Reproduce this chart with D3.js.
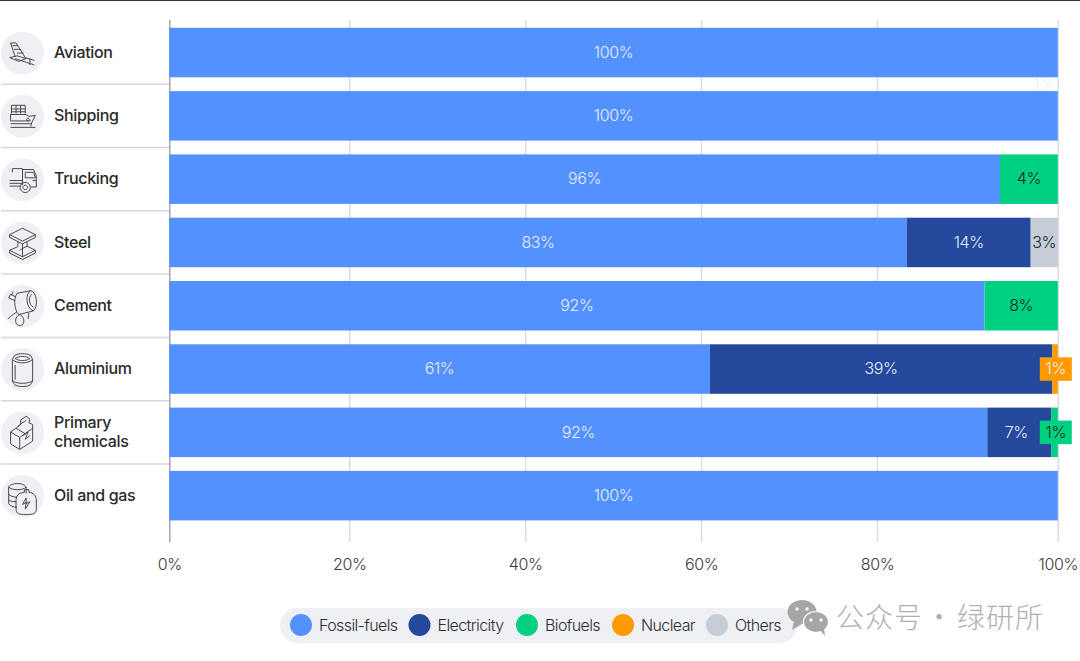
<!DOCTYPE html>
<html><head><meta charset="utf-8">
<script src="https://cdn.jsdelivr.net/npm/d3@7/dist/d3.min.js"></script>
<style>
html,body{margin:0;padding:0;background:#fff;overflow:hidden}
text{font-family:Inter,"Liberation Sans",sans-serif}
</style></head><body>
<svg id="chart" width="1080" height="661"></svg>
<script>
const categories = ["Aviation","Shipping","Trucking","Steel","Cement","Aluminium","Primary chemicals","Oil and gas"];
const seriesNames = ["Fossil-fuels","Electricity","Biofuels","Nuclear","Others"];
const seriesColors = ["#5391ff","#24489b","#00d180","#ff9a00","#c5cdd6"];
const fossil      = [100,100,93.6,83.3,91.9,61,92.2,100];
const electricity = [0,0,0,13.7,0,38.4,7.1,0];
const biofuels    = [0,0,6.4,0,8.1,0,0.7,0];
const nuclear     = [0,0,0,0,0,0.6,0,0];
const others      = [0,0,0,3,0,0,0,0];
const fossilLabels      = ["100%","100%","96%","83%","92%","61%","92%","100%"];
const electricityLabels = ["","","","14%","","39%","7%",""];
const biofuelsLabels    = ["","","4%","","8%","","1%",""];
const nuclearLabels     = ["","","","","","1%","",""];
const othersLabels      = ["","","","3%","","","",""];
const tickValues = [0,20,40,60,80,100];
const watermarkLeft = "公众号";
const watermarkDot = "·";
const watermarkRight = "绿研所";

const values = [fossil,electricity,biofuels,nuclear,others];
const labels = [fossilLabels,electricityLabels,biofuelsLabels,nuclearLabels,othersLabels];
const rows = categories.map((c,i)=>{const r={category:c};seriesNames.forEach((s,j)=>r[s]=values[j][i]);return r;});

const svg = d3.select("#chart");
const x = d3.scaleLinear().domain([0,20,80,100]).range([169.3,349.3,877,1057.8]);
const y = d3.scaleBand().domain(categories).range([20.9,527.3]).paddingInner(0.218).paddingOuter(0.109);
const color = d3.scaleOrdinal().domain(seriesNames).range(seriesColors);
const stacked = d3.stack().keys(seriesNames)(rows);

svg.append("rect").attr("x",0).attr("y",0).attr("width",1080).attr("height",1).attr("fill","#333");

// grid + axis
const axis = d3.axisBottom(x).tickValues(tickValues).tickFormat(d=>d+"%").tickSize(522).tickPadding(17);
const gx = svg.append("g").attr("transform","translate(0,20)").call(axis);
gx.select(".domain").remove();
gx.selectAll(".tick line").attr("stroke",d=>d===0?"#a4a6ab":"#d9dce4").attr("stroke-width",1.5);
gx.selectAll(".tick text").attr("font-size",16).attr("fill","#3a3a3a").attr("font-weight",300).attr("letter-spacing",-0.4);

// row separators
svg.append("g").selectAll("line").data(categories.slice(1)).join("line")
  .attr("x1",1).attr("x2",169)
  .attr("y1",d=>y(d)-y.step()*0.109).attr("y2",d=>y(d)-y.step()*0.109)
  .attr("stroke","#d5d8e2").attr("stroke-width",1.5);

// bars
svg.append("g").selectAll("g").data(stacked).join("g").attr("fill",d=>color(d.key))
  .selectAll("rect").data(d=>d.filter(p=>p[1]>p[0])).join("rect")
  .attr("x",d=>x(d[0])).attr("width",d=>x(d[1])-x(d[0]))
  .attr("y",d=>y(d.data.category)).attr("height",y.bandwidth());

// bar labels
const tagW = 32, tagH = 23.5;
stacked.forEach((s,j)=>{
  s.forEach((p,i)=>{
    const t = labels[j][i]; if(!t) return;
    const cy = y(categories[i])+y.bandwidth()/2;
    let cx = (x(p[0])+x(p[1]))/2;
    const w = x(p[1])-x(p[0]);
    const narrow = w < 20 && s.key!=="Others";
    if(narrow){
      cx = x(p[1])-2;
      svg.append("rect").attr("x",cx-tagW/2).attr("y",cy-tagH/2).attr("width",tagW).attr("height",tagH).attr("fill",color(s.key));
    } else if (w < 70 && s.key==="Electricity") cx -= 3;
    const dark = s.key==="Biofuels"||s.key==="Others";
    svg.append("text").attr("x",cx).attr("y",cy-0.5).attr("dy","0.36em").attr("text-anchor","middle")
      .attr("font-size",16).attr("font-weight",300).attr("letter-spacing",-0.4)
      .attr("fill",dark?"#122a22":"#e6edfb").text(t);
  });
});
// faint stray label in the gap under Aviation
svg.append("text").attr("x",1044).attr("y",84).attr("dy","0.36em").attr("text-anchor","middle")
  .attr("font-size",16).attr("font-weight",300).attr("fill","#eff0f3").text("1%");

// category labels
const lab = svg.append("g");
categories.forEach(c=>{
  const cy = y(c)+y.bandwidth()/2;
  const words = c==="Primary chemicals"?["Primary","chemicals"]:[c];
  words.forEach((w,k)=>{
    lab.append("text").attr("x",54).attr("y",cy-0.5+(k-(words.length-1)/2)*19).attr("dy","0.36em")
      .attr("font-size",16).attr("font-weight",500).attr("letter-spacing",-0.35).attr("fill","#2a2a2a").text(w);
  });
});

// icons (decorative line drawings)
const iconPaths = {
 "Aviation":"M-13,-11 L-7,-11 L3,5 L13,8 M-13,-11 L-8,4 M-11,-8 L-5,-8 M-9,-4 L-2,-4 M-6,0 L1,0 M-14,5 L-6,3 L4,6 L-4,9 L-14,5 M-8,6 L13,13 M8,6 V13",
 "Shipping":"M-12,-12 H3 M-12,-12 V-3 M-7,-12 V-3 M-2,-12 V-3 M3,-12 V-3 M-12,-8 H3 M-12,-5 H3 M-13,-2 H4 L7,0 L14,-1 L10,7 L9,11 M-13,-2 V5 H9 M6,2 a1.5,1.5 0 1 0 0.01,0 M-13,8 H10 M-13,12 H14",
 "Trucking":"M-11,-12 H0 M-11,-12 V-8 M0,-12 V6 M0,-11 H12 L15,-4 V8 H9 M3,-8 H12 L14,-2 H3 Z M-14,1 H0 M-14,4 H0 M-14,7 H-2 M3,3 a5.5,5.5 0 1 0 0.01,0 M3,6 a2.5,2.5 0 1 0 0.01,0 M11,1 H15",
 "Steel":"M0,-16 L14,-9 L0,-2 L-14,-9 Z M-14,-9 V-6 L0,1 L14,-6 V-9 M-5,-1.5 V4 L-14,8 V11 L0,18 L14,11 V8 L5,3.5 V-1.5 M0,1 V15 M-14,8 L0,15 L14,8 M-3,8 L0,6 L5,3.5",
 "Cement":"M-6,-14 L9,-17 C16,-15 17,0 12,5 L-4,9 C-9,4 -10,-8 -6,-14 Z M9,-17 C3,-14 3,2 12,5 M10,-13 C6,-10 7,-1 12,1 M-7,-10 L-13,-13 L-15,-9 L-8,-6 M-10,-16 L-12,-12 M-6,6 L-13,11 L-16,14 M-3,9 C-9,11 -9,21 -3,21 C3,21 3,12 -3,9 M7,7 L6,14",
 "Aluminium":"M-9,-15 C-5,-18 5,-18 9,-15 L11,-11 V13 L8,17 C4,19 -4,19 -8,17 L-11,13 V-11 Z M-11,-11 C-6,-6 6,-6 11,-11 M-8,-12 C-4,-15 4,-15 8,-12 C4,-9 -4,-9 -8,-12 M-11,12 C-6,16 6,16 11,12 M-8,-5 V11",
 "Primary chemicals":"M-2,-14 L4,-18 L8,-15 L7,-11 L11,-9 V9 L-3,18 L-13,12 V-1 L-7,-5 L-2,-9 Z M-13,-1 L-3,5 V18 M-3,5 L11,-5 M-7,-5 L3,1 M1,-11 L4,-14 M-5,-7 L1,-12 M1,3 L6,-1 L3,7 L8,3",
 "Oil and gas":"M-15,-10 C-12,-15 1,-15 4,-10 V-3 M-15,-10 C-12,-6 1,-6 4,-10 M-15,-10 V8 C-14,11 -9,12 -6,12 M-15,-2 C-12,1 -8,1 -6,1 M-15,4 C-13,6 -10,6 -7,6 M-7,4 C-7,-2 -2,-4 2,-4 V-7 H7 V-4 C12,-4 15,0 15,4 V14 C15,19 12,20 4,20 C-4,20 -7,19 -7,14 Z M4,2 L0,9 L4,7 L3,14 L8,6 L4,8 Z"
};
categories.forEach(c=>{
  const cy = y(c)+y.bandwidth()/2;
  const g = svg.append("g").attr("transform",`translate(22.5,${cy+0.5})`);
  g.append("circle").attr("r",21.5).attr("fill","#eff0f4");
  g.append("path").attr("d",iconPaths[c]).attr("fill","none").attr("stroke","#3a3c42").attr("stroke-width",1).attr("transform","scale(0.92)");
});

// legend
svg.append("rect").attr("x",280).attr("y",608).attr("width",517).attr("height",35).attr("rx",17.5).attr("fill","#eff0f4");
const legendCenters = [301,419.5,527,623,717];
seriesNames.forEach((s,i)=>{
  svg.append("circle").attr("cx",legendCenters[i]).attr("cy",625).attr("r",11).attr("fill",color(s));
  svg.append("text").attr("x",legendCenters[i]+18).attr("y",625).attr("dy","0.36em")
    .attr("font-size",16).attr("font-weight",300).attr("letter-spacing",-0.6).attr("fill","#2e2e2e").text(s);
});

// watermark
const wm = svg.append("g").attr("fill","#a6a6a6");
wm.append("ellipse").attr("cx",802).attr("cy",612).attr("rx",14.5).attr("ry",12);
wm.append("path").attr("d","M794,621 L792,630 L802,624 Z");
wm.append("ellipse").attr("cx",816).attr("cy",622).attr("rx",12.5).attr("ry",10.5).attr("stroke","#fff").attr("stroke-width",1.2);
wm.append("path").attr("d","M820,630 L825,636 L824,628 Z");
[[797,609],[807,609],[811,620],[821,620]].forEach(p=>svg.append("circle").attr("cx",p[0]).attr("cy",p[1]).attr("r",1.8).attr("fill","#f4f4f4"));
const wmText = (tx,t,anchor)=>svg.append("text").attr("x",tx).attr("y",618).attr("dy","0.36em")
  .style("font-family","'Noto Sans CJK SC'").attr("font-size",28).attr("font-weight",300)
  .attr("letter-spacing",anchor?0:1).attr("text-anchor",anchor||"start").attr("fill","#b0b0b0").text(t);
wmText(836,watermarkLeft);
wmText(939,watermarkDot,"middle");
wmText(957,watermarkRight);
</script></body></html>
